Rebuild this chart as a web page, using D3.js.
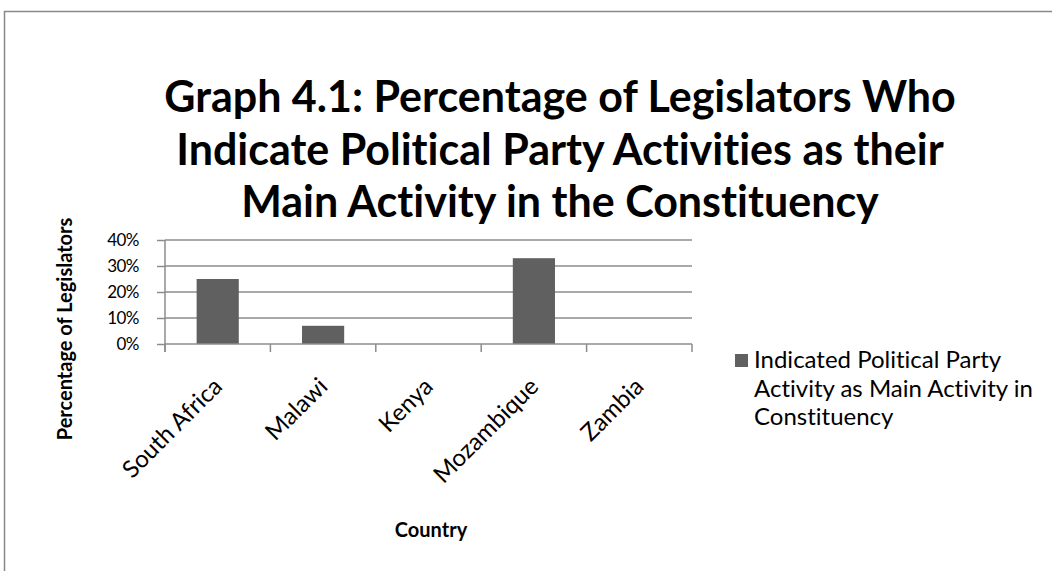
<!DOCTYPE html>
<html>
<head>
<meta charset="utf-8">
<script src="https://cdn.jsdelivr.net/npm/d3@7"></script>
<style>
  body { margin: 0; background: #fff; }
  svg { display: block; font-family: Lato, 'Open Sans', sans-serif; font-variant-ligatures: none; }
</style>
</head>
<body>
<div id="chart"></div>
<script>
const countries = ['South Africa', 'Malawi', 'Kenya', 'Mozambique', 'Zambia'];
const partyActivity = [0.25, 0.07, 0, 0.33, 0];
const yTicks = [0, 0.1, 0.2, 0.3, 0.4];
const titleLines = [
  'Graph 4.1: Percentage of Legislators Who',
  'Indicate Political Party Activities as their',
  'Main Activity in the Constituency'
];
const legendLines = ['Indicated Political Party', 'Activity as Main Activity in', 'Constituency'];

const W = 1052, H = 571;
const plot = { left: 165, right: 692, top: 240, bottom: 344 };
const axisGrey = '#8c8c8c';
const barGrey = '#606060';

const svg = d3.select('#chart').append('svg')
  .attr('width', W)
  .attr('height', H);

// outer frame (cut off by page edges)
svg.append('path')
  .attr('d', `M4.5,${H + 5} V11.5 H${W + 5}`)
  .attr('fill', 'none')
  .attr('stroke', '#888')
  .attr('stroke-width', 1.5);

// title
svg.append('text')
  .attr('text-anchor', 'middle')
  .style('font-size', '43px')
  .style('font-weight', 'bold')
  .selectAll('tspan')
  .data(titleLines)
  .enter()
  .append('tspan')
  .attr('x', 560)
  .attr('y', (d, i) => 112 + i * 52.5)
  .text(d => d);

const x = d3.scaleBand()
  .domain(countries)
  .range([plot.left, plot.right])
  .paddingInner(0.6)
  .paddingOuter(0.3);

const y = d3.scaleLinear()
  .domain([0, 0.4])
  .range([plot.bottom, plot.top]);

// gridlines
svg.append('g')
  .selectAll('line')
  .data(yTicks.slice(1))
  .enter()
  .append('line')
  .attr('x1', plot.left)
  .attr('x2', plot.right)
  .attr('y1', d => y(d))
  .attr('y2', d => y(d))
  .attr('stroke', axisGrey)
  .attr('stroke-width', 1.5);

// bars
svg.append('g')
  .selectAll('rect')
  .data(countries)
  .enter()
  .append('rect')
  .attr('x', d => x(d))
  .attr('width', x.bandwidth())
  .attr('y', (d, i) => y(partyActivity[i]))
  .attr('height', (d, i) => y(0) - y(partyActivity[i]))
  .attr('fill', barGrey);

// y axis
const yAxis = d3.axisLeft(y)
  .tickValues(yTicks)
  .tickFormat(d3.format('.0%'))
  .tickSize(8)
  .tickPadding(18);
const yg = svg.append('g')
  .attr('transform', `translate(${plot.left},0)`)
  .call(yAxis);
yg.select('.domain').attr('stroke', axisGrey).attr('stroke-width', 1.5).attr('d', `M0,${plot.top}V${plot.bottom + 8}`);
yg.selectAll('.tick line').attr('stroke', axisGrey).attr('stroke-width', 1.5);
yg.selectAll('.tick text')
  .style('font-size', '17px')
  .style('font-family', 'Lato, sans-serif')
  .style('letter-spacing', '-0.5px')
  .attr('fill', '#000');

// x axis: ticks at category boundaries
const step = (plot.right - plot.left) / countries.length;
const bounds = d3.range(countries.length + 1).map(i => plot.left + i * step);
svg.append('line')
  .attr('x1', plot.left).attr('x2', plot.right)
  .attr('y1', plot.bottom).attr('y2', plot.bottom)
  .attr('stroke', axisGrey).attr('stroke-width', 1.5);
svg.append('g')
  .selectAll('line')
  .data(bounds)
  .enter()
  .append('line')
  .attr('x1', d => d).attr('x2', d => d)
  .attr('y1', plot.bottom).attr('y2', plot.bottom + 8)
  .attr('stroke', axisGrey).attr('stroke-width', 1.5);

// category labels
svg.append('g')
  .selectAll('text')
  .data(countries)
  .enter()
  .append('text')
  .attr('transform', d => `translate(${x(d) + x.bandwidth() / 2 + 6},${plot.bottom + 44}) rotate(-45)`)
  .attr('text-anchor', 'end')
  .style('font-size', '24px')
  .text(d => d);

// axis titles
svg.append('text')
  .attr('transform', `translate(72,329) rotate(-90)`)
  .attr('text-anchor', 'middle')
  .style('font-size', '20px')
  .style('font-weight', 'bold')
  .text('Percentage of Legislators');

svg.append('text')
  .attr('x', 431)
  .attr('y', 537)
  .attr('text-anchor', 'middle')
  .style('font-size', '20px')
  .style('font-weight', 'bold')
  .text('Country');

// legend
const legend = svg.append('g').attr('transform', 'translate(735,354)');
legend.append('rect')
  .attr('width', 13).attr('height', 13)
  .attr('fill', barGrey);
legend.append('text')
  .style('font-size', '24px')
  .selectAll('tspan')
  .data(legendLines)
  .enter()
  .append('tspan')
  .attr('x', 19)
  .attr('y', (d, i) => 14 + i * 28.5)
  .text(d => d);
</script>
</body>
</html>
